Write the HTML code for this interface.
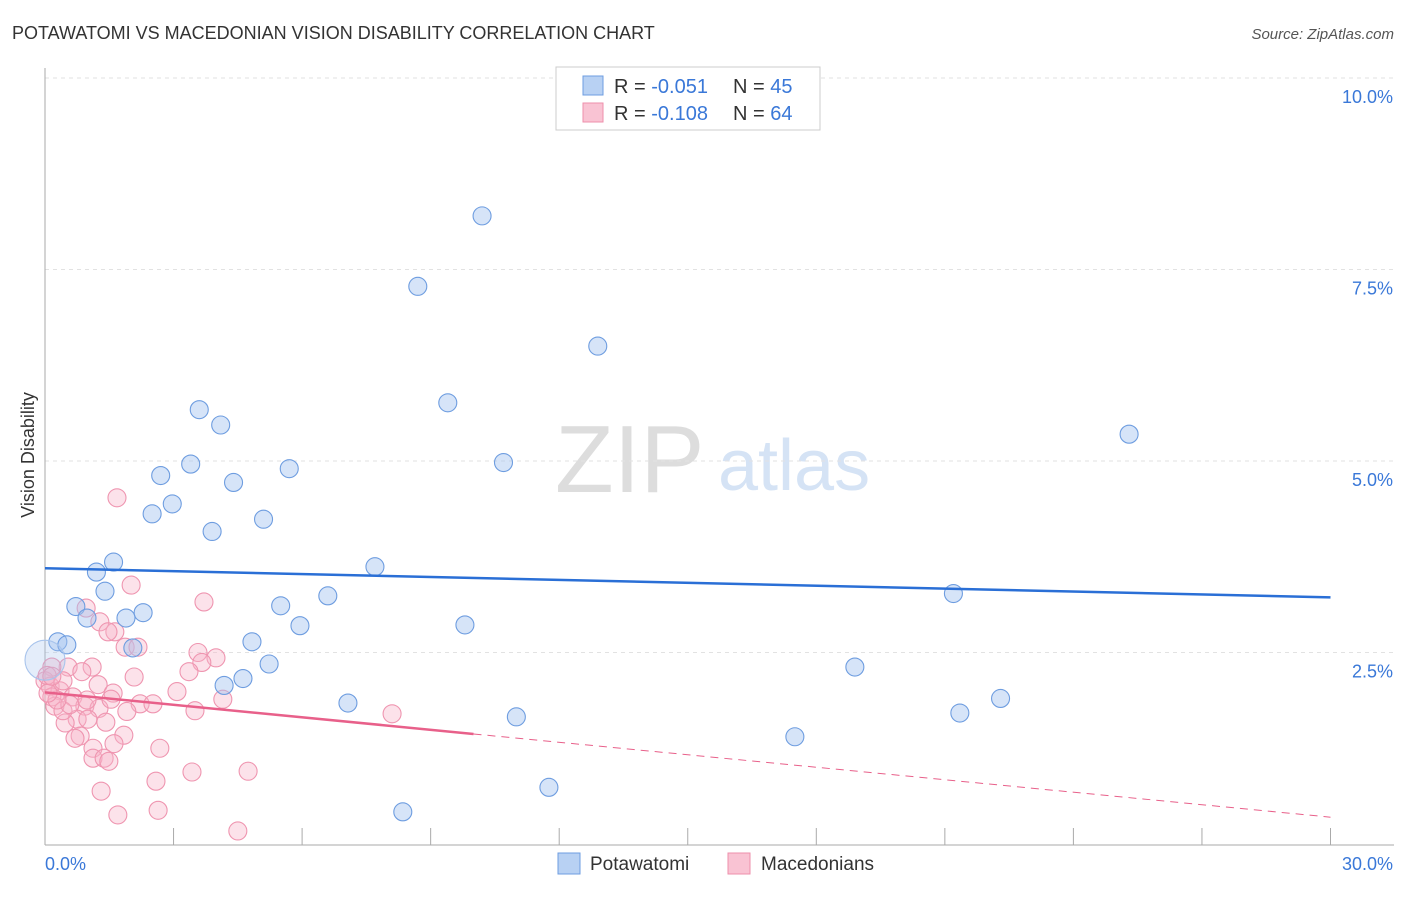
<!DOCTYPE html>
<html><head><meta charset="utf-8"><style>
body{margin:0;background:#fff;font-family:"Liberation Sans",sans-serif;}
svg text{font-family:"Liberation Sans",sans-serif;}
</style></head><body>
<svg id="c" width="1406" height="892" xmlns="http://www.w3.org/2000/svg">
<text x="12" y="39" font-size="18" fill="#333">POTAWATOMI VS MACEDONIAN VISION DISABILITY CORRELATION CHART</text>
<text x="1394" y="39" font-size="15" fill="#555" font-style="italic" text-anchor="end">Source: ZipAtlas.com</text>
<text x="555" y="492" font-size="96" fill="#ddd" font-family="Liberation Serif">ZIP</text>
<text x="718" y="490" font-size="72" fill="#d5e3f5">atlas</text>
<g id="grid"></g><g id="axes"></g><g id="pts"></g><g id="lines"></g>
<text transform="translate(34,455) rotate(-90)" font-size="18" fill="#333" text-anchor="middle">Vision Disability</text>
<g>
<rect x="556" y="67" width="264" height="63" fill="#fff" stroke="#ccc"/>
<rect x="583" y="76" width="20" height="19" fill="#b8d1f3" stroke="#6e9de0"/>
<rect x="583" y="103" width="20" height="19" fill="#f9c3d3" stroke="#ee8fab"/>
<text x="614" y="93" font-size="20" fill="#333">R = <tspan fill="#3a78d8">-0.051</tspan></text>
<text x="733" y="93" font-size="20" fill="#333">N = <tspan fill="#3a78d8">45</tspan></text>
<text x="614" y="120" font-size="20" fill="#333">R = <tspan fill="#3a78d8">-0.108</tspan></text>
<text x="733" y="120" font-size="20" fill="#333">N = <tspan fill="#3a78d8">64</tspan></text>
</g>
<g>
<rect x="558" y="853" width="22" height="21" fill="#b8d1f3" stroke="#6e9de0"/>
<text x="590" y="870" font-size="19" fill="#333">Potawatomi</text>
<rect x="728" y="853" width="22" height="21" fill="#f9c3d3" stroke="#ee8fab"/>
<text x="761" y="870" font-size="19" fill="#333">Macedonians</text>
</g>
</svg>
<script>
const xTicks=[0,3,6,9,12,15,18,21,24,27,30];
const yTicks=[2.5,5,7.5,10];
const yTickLabels=["2.5%","5.0%","7.5%","10.0%"];
const blueX=[10.2,8.7,12.9,9.4,3.6,4.1,25.3,3.4,10.7,2.7,5.7,4.4,2.97,2.5,5.1,3.9,1.6,1.2,7.7,1.4,0.72,2.29,1.89,0.98,5.5,6.6,5.95,21.2,9.8,0.3,0.51,4.83,2.05,5.23,18.9,4.62,4.18,22.3,7.07,21.35,11.0,17.5,11.76,8.35,0];
const blueY=[8.2,7.28,6.5,5.76,5.67,5.47,5.35,4.96,4.98,4.81,4.9,4.72,4.44,4.31,4.24,4.08,3.68,3.55,3.62,3.3,3.1,3.02,2.95,2.95,3.11,3.24,2.85,3.27,2.86,2.64,2.6,2.64,2.56,2.35,2.31,2.16,2.07,1.9,1.84,1.71,1.66,1.4,0.74,0.42,2.4];
const pinkX=[1.68,2.01,0.96,3.71,1.28,1.63,1.47,1.87,2.17,3.99,3.57,3.66,1.1,0.54,0.16,3.36,2.08,0.86,0,0.12,0.35,1.24,3.08,1.59,0.65,0.16,4.15,2.22,2.52,0.93,1.26,0.23,3.5,8.1,0.75,1.0,0.47,1.42,1.84,0.82,1.61,0.7,2.68,1.12,1.12,1.38,1.49,3.43,4.74,2.59,1.31,2.64,1.7,4.5,0.42,0.58,0.28,0.07,0.05,1.54,0.42,0.16,0.98,1.91];
const pinkY=[4.52,3.38,3.08,3.16,2.9,2.77,2.77,2.57,2.57,2.43,2.5,2.37,2.31,2.31,2.31,2.25,2.18,2.25,2.13,2.06,2.0,2.08,1.99,1.97,1.92,1.92,1.89,1.83,1.83,1.8,1.77,1.8,1.74,1.7,1.63,1.63,1.58,1.59,1.42,1.41,1.31,1.38,1.25,1.25,1.12,1.12,1.08,0.94,0.95,0.82,0.69,0.44,0.38,0.17,1.74,1.82,1.88,1.97,2.2,1.89,2.13,2.19,1.88,1.73];
const blueTrend=[3.60,3.22];
const pinkTrend=[1.98,0.35];
const pinkSolidEnd=10.0;
const X=v=>45+v*42.85, Y=v=>844-v*76.6;
const NS="http://www.w3.org/2000/svg";
function mk(p,t,a){const e=document.createElementNS(NS,t);for(const k in a)e.setAttribute(k,a[k]);p.appendChild(e);return e;}
const grid=document.getElementById('grid'),axes=document.getElementById('axes'),pts=document.getElementById('pts'),lines=document.getElementById('lines');
yTicks.forEach((v,i)=>{
 const l=mk(grid,'line',{x1:45,x2:1394,y1:Y(v),y2:Y(v),stroke:'#e2e2e2','stroke-dasharray':'4,4'});
 
 
 const t=mk(axes,'text',{x:1393,y:Y(v)+25,'font-size':18,fill:'#3a78d8','text-anchor':'end'});t.textContent=yTickLabels[i];
 
 
});
mk(axes,'line',{x1:45,x2:45,y1:68,y2:845,stroke:'#aaa'});
mk(axes,'line',{x1:45,x2:1394,y1:845,y2:845,stroke:'#aaa'});
xTicks.forEach(v=>{const l=mk(axes,'line',{x1:X(v),x2:X(v),y1:828,y2:845,stroke:'#aaa'});
 
 });
let t0=mk(axes,'text',{x:45,y:870,'font-size':18,fill:'#3a78d8'});t0.textContent='0.0%';


let t1=mk(axes,'text',{x:1393,y:870,'font-size':18,fill:'#3a78d8','text-anchor':'end'});t1.textContent='30.0%';


pinkX.forEach((x,i)=>{const c=mk(pts,'circle',{cx:X(x),cy:Y(pinkY[i]),r:9,fill:'rgba(248,180,200,0.38)',stroke:'#ef95b0','stroke-width':1.1});
 
 });
blueX.forEach((x,i)=>{const big=i===blueX.length-1;const c=mk(pts,'circle',{cx:X(x),cy:Y(blueY[i]),r:big?20:9,fill:big?'rgba(164,196,240,0.3)':'rgba(164,196,240,0.45)',stroke:big?'#a8c4ec':'#6e9de0','stroke-width':1.1});
 
 });
const bl=mk(lines,'line',{x1:X(0),y1:Y(blueTrend[0]),x2:X(30),y2:Y(blueTrend[1]),stroke:'#2a6fd6','stroke-width':2.5});


const py=x=>pinkTrend[0]+(pinkTrend[1]-pinkTrend[0])*x/30;
const pl=mk(lines,'line',{x1:X(0),y1:Y(py(0)),x2:X(pinkSolidEnd),y2:Y(py(pinkSolidEnd)),stroke:'#e8608a','stroke-width':2.5});


const pd=mk(lines,'line',{x1:X(pinkSolidEnd),y1:Y(py(pinkSolidEnd)),x2:X(30),y2:Y(py(30)),stroke:'#e8608a','stroke-width':1,'stroke-dasharray':'8,6'});


</script>
</body></html>
